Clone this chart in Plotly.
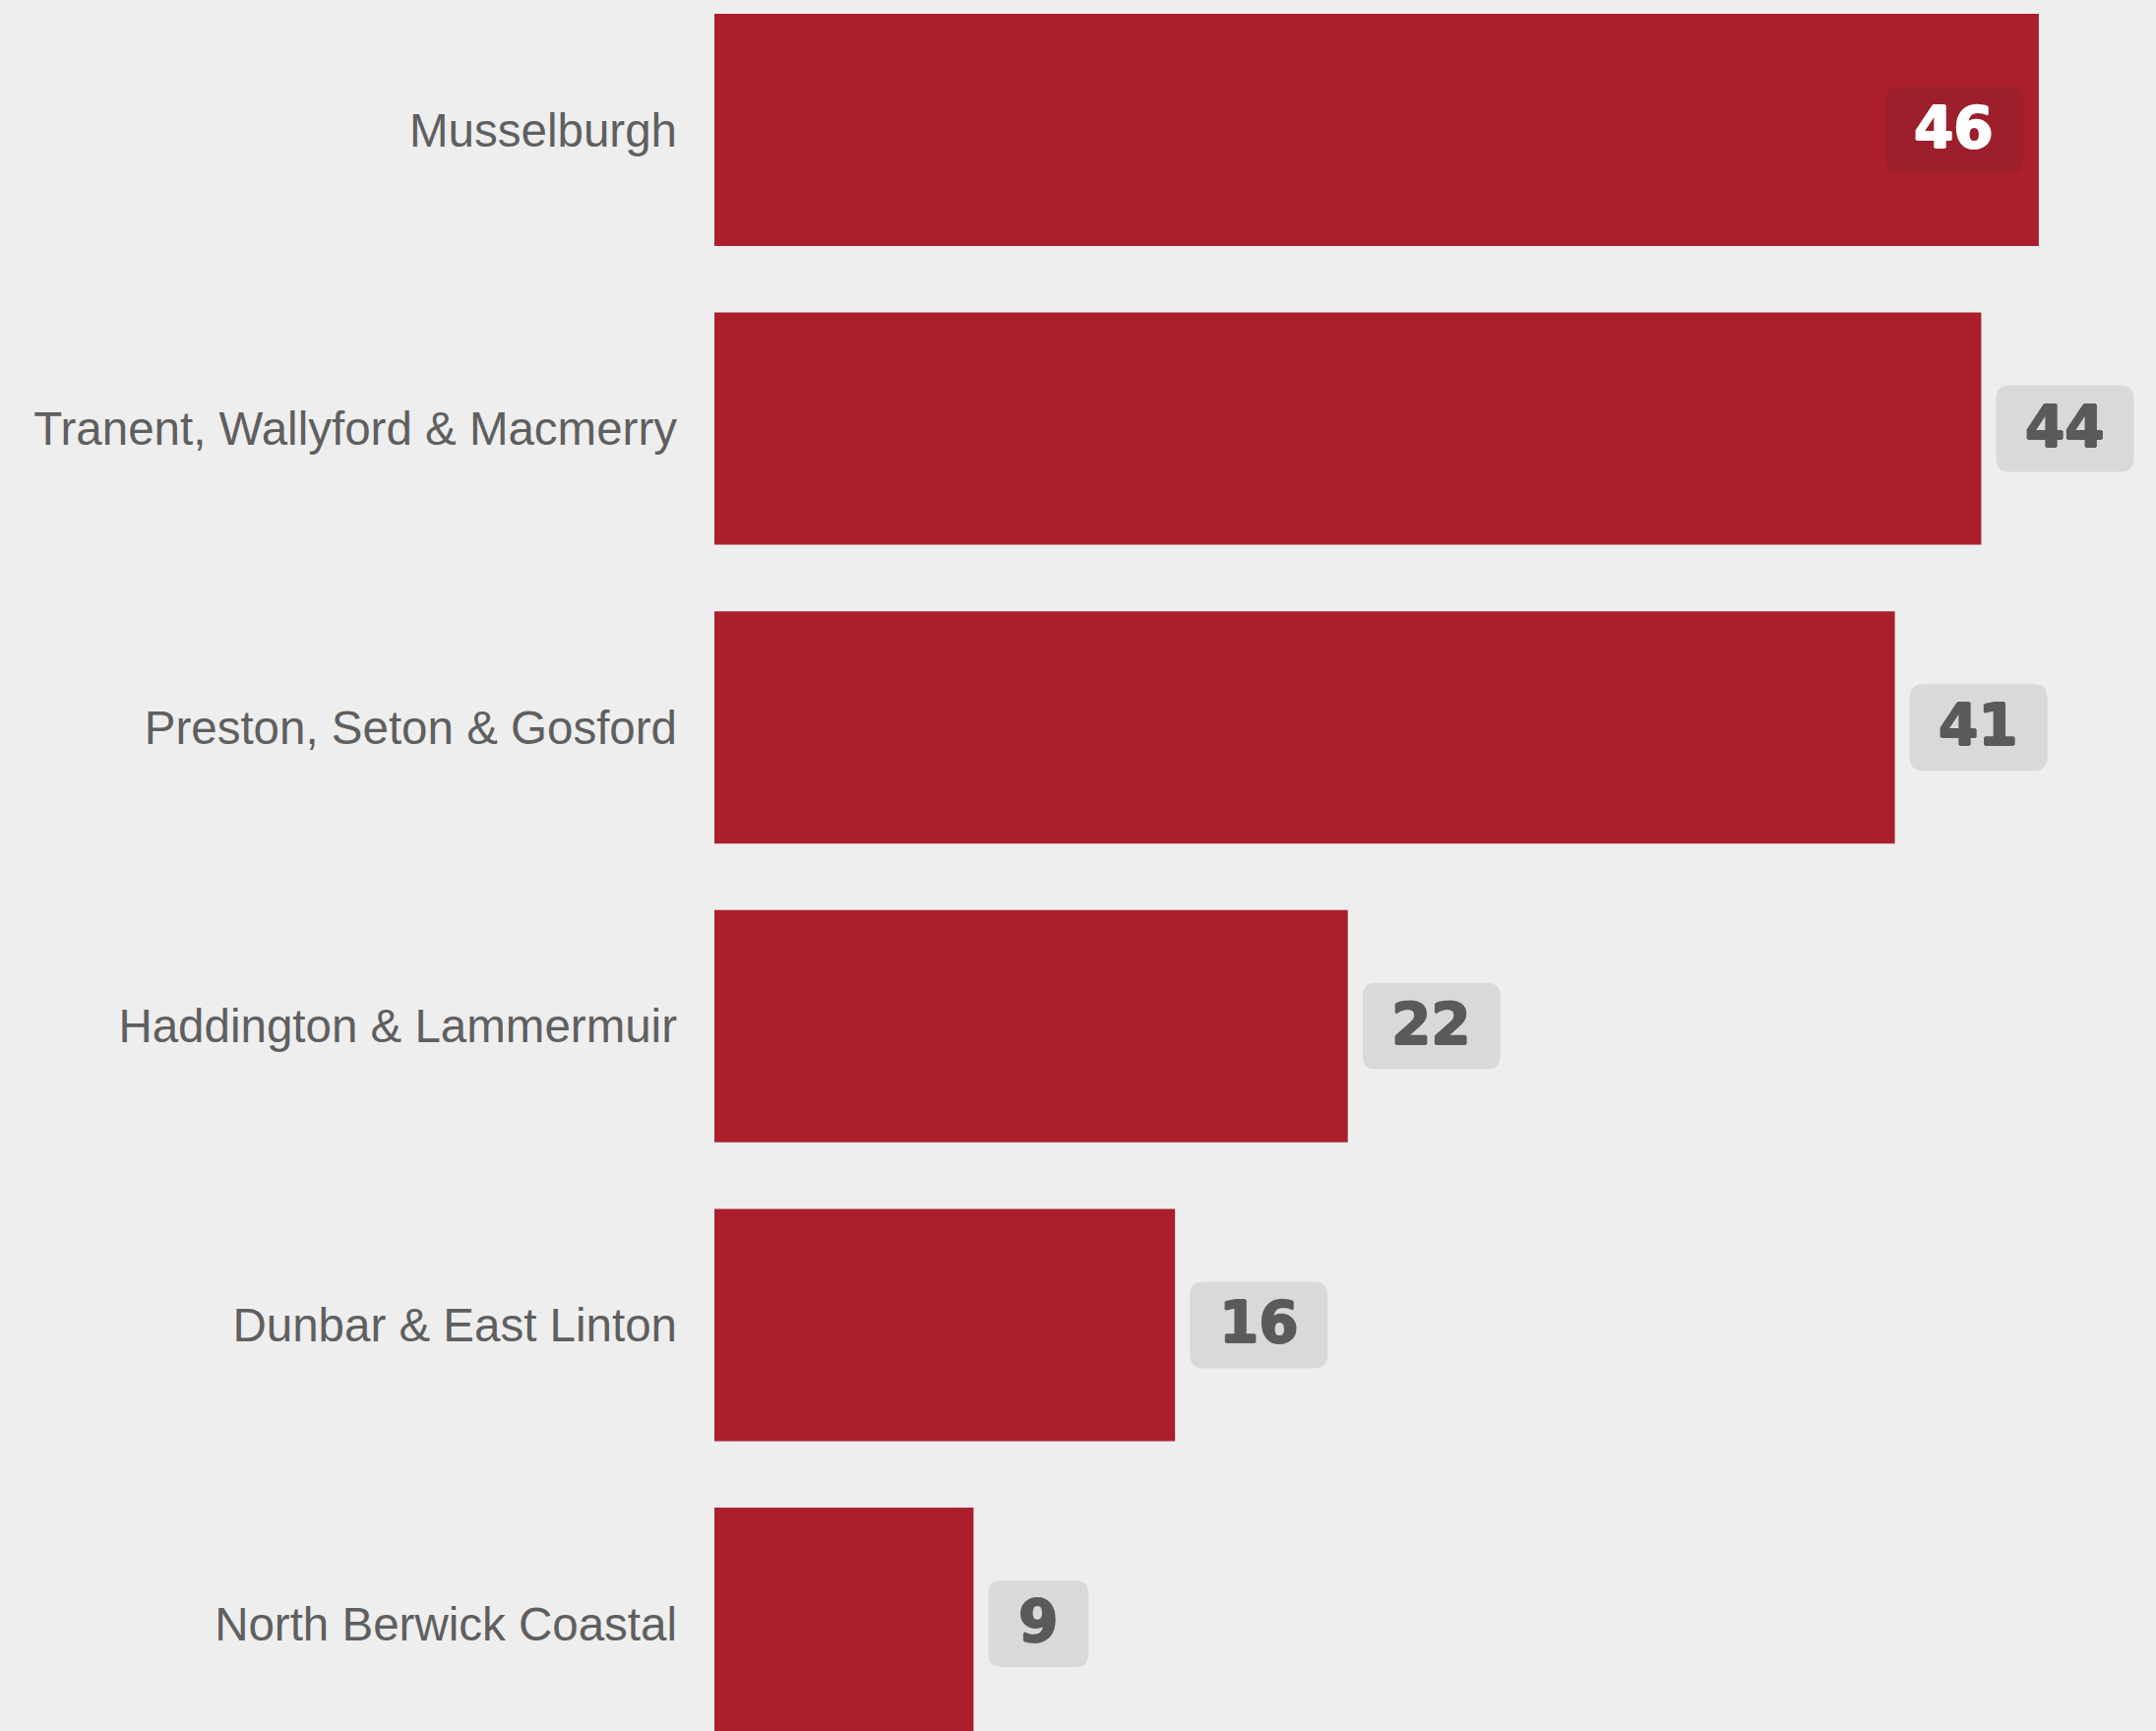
import plotly.graph_objects as go

categories = [
    "Musselburgh",
    "Tranent, Wallyford & Macmerry",
    "Preston, Seton & Gosford",
    "Haddington & Lammermuir",
    "Dunbar & East Linton",
    "North Berwick Coastal",
]
values = [46, 44, 41, 22, 16, 9]

BAR = "#AB1F2D"
BAR_DARK = "#9D1F2B"
BOX = "#D9D9D9"
BG = "#EEEEEE"
TXT = "#5A5A5A"

W, H = 2191, 1759
ML = 726
PW = W - ML
XMAX = 50.07
pxu = PW / XMAX

idx = list(range(len(categories)))

fig = go.Figure()
fig.add_trace(go.Bar(
    x=values, y=idx, orientation="h",
    marker=dict(color=BAR, line=dict(width=0)),
    hoverinfo="skip",
))


def rrect(x0, x1, y0, y1, r):
    return (f"M{x0 + r},{y0} L{x1 - r},{y0} Q{x1},{y0} {x1},{y0 + r} "
            f"L{x1},{y1 - r} Q{x1},{y1} {x1 - r},{y1} L{x0 + r},{y1} "
            f"Q{x0},{y1} {x0},{y1 - r} L{x0},{y0 + r} Q{x0},{y0} {x0 + r},{y0} Z")


def thick(c):
    return f"1px 0 0 {c}, -1px 0 0 {c}, 0 1px 0 {c}, 0 -1px 0 {c}"


shapes = []
annotations = []
BH = 88
for i, v in enumerate(values):
    label = str(v)
    bw = 64 + 38 * len(label)
    bar_px = v * pxu
    if bar_px + 15 + bw <= PW:
        x0, x1 = 15, 15 + bw
        fill, col = BOX, TXT
    else:
        x0, x1 = -16 - bw, -16
        fill, col = BAR_DARK, "#FFFFFF"
    shapes.append(dict(
        type="path", xref="x", yref="y",
        xsizemode="pixel", ysizemode="pixel",
        xanchor=v, yanchor=i,
        path=rrect(x0, x1, -BH / 2, BH / 2, 14),
        fillcolor=fill, line=dict(width=0), layer="above",
    ))
    annotations.append(dict(
        x=v, y=i, xref="x", yref="y", text=label, showarrow=False,
        xanchor="center", yanchor="middle", xshift=(x0 + x1) / 2, yshift=2,
        font=dict(family="DejaVu Sans", size=58, color=col, weight="bold",
                  shadow=thick(col)),
    ))

fig.update_layout(
    width=W, height=H,
    margin=dict(l=ML, r=0, t=0, b=0, pad=0),
    paper_bgcolor=BG, plot_bgcolor=BG,
    bargap=0.2227,
    showlegend=False,
    shapes=shapes,
    annotations=annotations,
    xaxis=dict(range=[0, XMAX], visible=False, fixedrange=True),
    yaxis=dict(
        range=[5 + (H - 132 - 5 * 303.6) / 303.6, -132 / 303.6],
        tickmode="array", tickvals=idx, ticktext=categories,
        showgrid=False, zeroline=False, showline=False, ticks="",
        ticklabelstandoff=37,
        tickfont=dict(family="Liberation Sans, Arial, sans-serif", size=47.5, color="#5F5F5F"),
        fixedrange=True,
    ),
)

fig.write_html(
    "out.html",
    config={"displayModeBar": False},
    post_script="document.body.style.margin='0';document.body.style.background='#EEEEEE';",
)
